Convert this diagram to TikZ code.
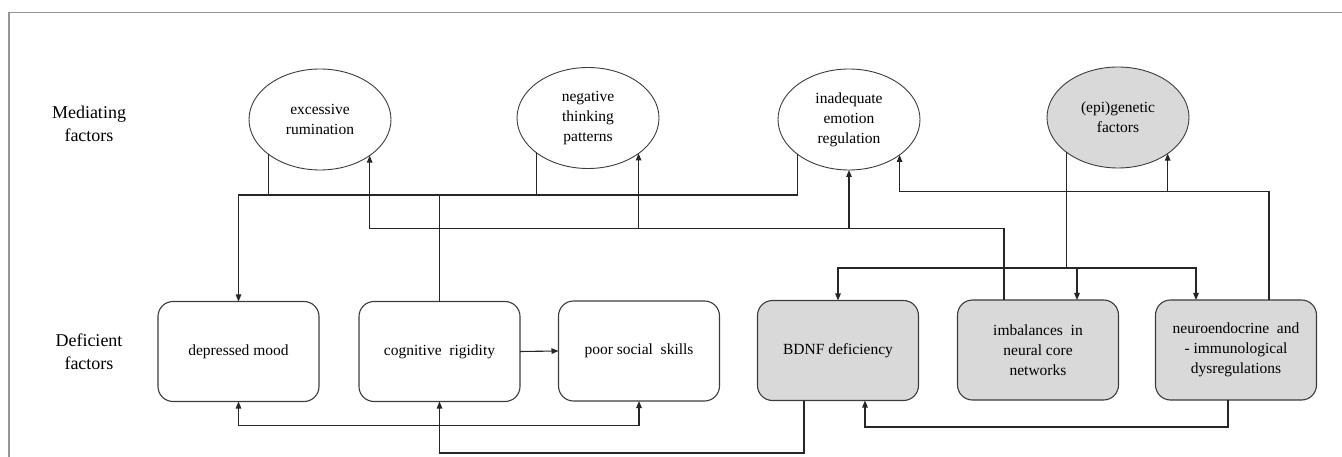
\documentclass[tikz,border=0pt]{standalone}
\usepackage{fontspec}
\setmainfont{Liberation Serif}
\usetikzlibrary{shapes.geometric,arrows.meta}
\definecolor{boxfill}{RGB}{217,217,217}
\definecolor{edgecol}{RGB}{60,60,60}
\definecolor{framecol}{RGB}{150,150,150}
\newcommand\nfont{\fontsize{15.5}{20}\selectfont}
\newcommand\lfont{\fontsize{18}{23}\selectfont}
\tikzset{
  ell/.style={ellipse, draw=edgecol, line width=0.9pt, fill=white, minimum width=142pt, minimum height=101pt, inner sep=0pt, outer sep=0pt, align=center, font=\nfont},
  fbox/.style={rectangle, rounded corners=15pt, draw=edgecol, line width=1.1pt, fill=white, minimum width=161pt, minimum height=100pt, inner sep=0pt, outer sep=0pt, align=center, font=\nfont},
  shaded/.style={fill=boxfill},
  conn/.style={draw=black!85, line width=1.1pt},
  arr/.style={conn, -{Triangle[length=7pt,width=5.5pt]}},
  lab/.style={align=center, font=\lfont}
}
\begin{document}
\begin{tikzpicture}[x=1pt,y=-1pt]
\useasboundingbox (0,0) rectangle (1342,457);
% frame
\draw[framecol, line width=1.3pt] (9,457) -- (9,12.3) -- (1342,12.3);
% labels
\node[lab] (lm) at (89,123.5) {Mediating\\factors};
\node[lab] (ld) at (89,352) {Deficient\\factors};
% mediating factors
\node[ell] (r) at (320,119.5) {excessive\\rumination};
\node[ell] (n) at (588,118) {negative\\thinking\\patterns};
\node[ell] (e) at (849,119.5) {inadequate\\emotion\\regulation};
\node[ell,shaded] (g) at (1118,117.5) {(epi)genetic\\factors};
% deficient factors
\node[fbox] (dm) at (238.5,351.5) {depressed mood};
\node[fbox] (cr) at (439.5,351.5) {cognitive~~rigidity};
\node[fbox] (ps) at (639,351) {poor social~~skills};
\node[fbox,shaded] (bd) at (838,350.5) {BDNF deficiency};
\node[fbox,shaded] (im) at (1038,350) {imbalances~~in\\neural core\\networks};
\node[fbox,shaded] (ne) at (1236,350) {neuroendocrine~~and\\- immunological\\dysregulations};
% helper coordinates
\coordinate (h1) at (0,195);
\coordinate (h2) at (0,228.5);
\coordinate (h3) at (0,191.5);
\coordinate (h4) at (0,268);
\coordinate (h5) at (0,425.5);
\coordinate (h5b) at (0,427);
\coordinate (h6) at (0,453);
\coordinate (imOut) at ([xshift=-34pt]im.north);
\coordinate (imIn) at ([xshift=39pt]im.north);
\coordinate (neOut) at ([xshift=33pt]ne.north);
\coordinate (neIn) at ([xshift=-40pt]ne.north);
\coordinate (bdOut) at ([xshift=-34pt]bd.south);
\coordinate (bdIn) at ([xshift=27pt]bd.south);
\coordinate (neBot) at ([xshift=-8pt]ne.south);
% mediating -> depressed mood
\draw[arr] (e.214.5) |- (dm.north |- h1) -- (dm.north);
\draw[conn] (r.214.5) -- (r.214.5 |- h1);
\draw[conn] (n.214.5) -- (n.214.5 |- h1);
\draw[conn] (cr.north) -- (cr.north |- h1);
% imbalances -> rumination, negative thinking, emotion regulation
\draw[arr] (imOut) |- (r.324.3 |- h2) -- (r.324.3);
\draw[arr] (n.325.5 |- h2) -- (n.325.5);
\draw[arr] (e.south |- h2) -- (e.south);
% neuroendocrine -> emotion regulation, epigenetic
\draw[arr] (neOut) |- (e.325 |- h3) -- (e.325);
\draw[arr] (g.324.3 |- h3) -- (g.324.3);
% epigenetic -> BDNF, imbalances, neuroendocrine
\draw[arr] (g.214.5) |- (neIn |- h4) -- (neIn);
\draw[arr] (g.214.5 |- h4) -| (bd.north);
\draw[arr] (imIn |- h4) -- (imIn);
% BDNF -> cognitive rigidity, depressed mood, poor social skills
\draw[arr] (bdOut) |- (cr.south |- h6) -- (cr.south);
\draw[arr] (cr.south |- h5) -| (dm.south);
\draw[arr] (cr.south |- h5) -| (ps.south);
% neuroendocrine -> BDNF
\draw[arr] (neBot) |- (bdIn |- h5b) -- (bdIn);
% cognitive rigidity -> poor social skills
\draw[arr] (cr.east) -- (ps.west);
\end{tikzpicture}
\end{document}
